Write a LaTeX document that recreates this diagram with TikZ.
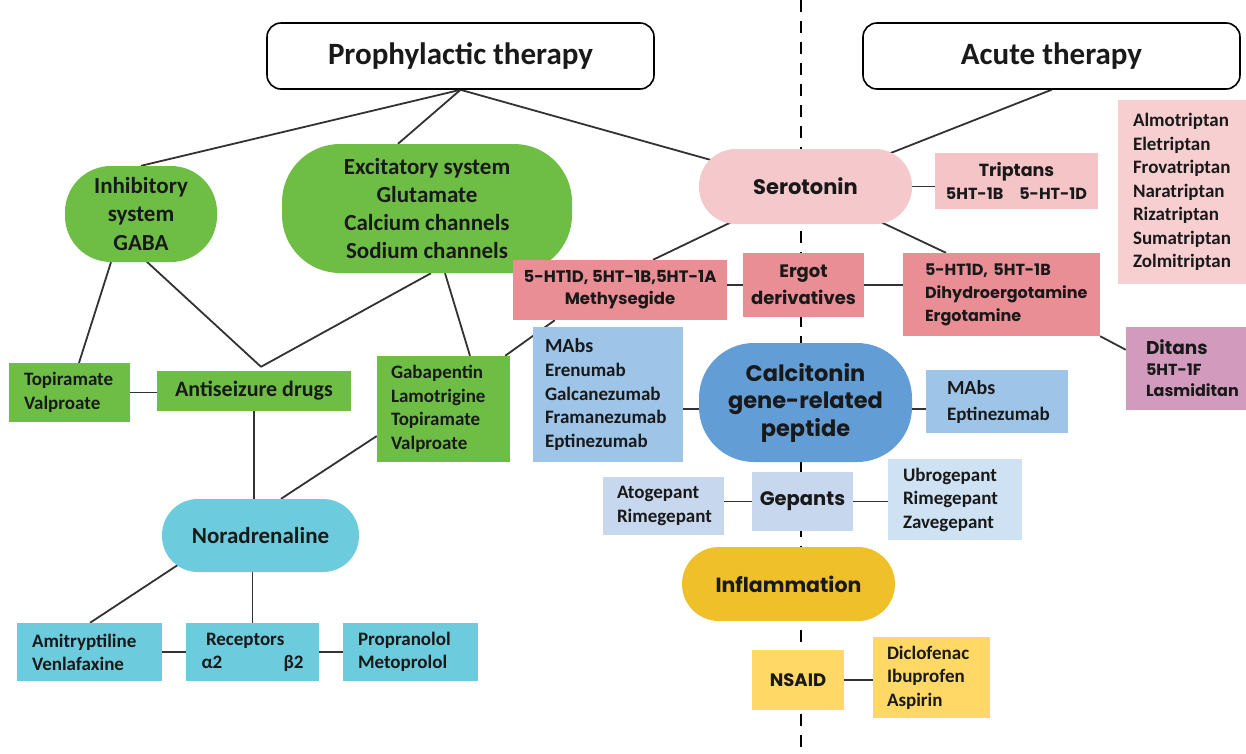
\documentclass[tikz,border=0pt]{standalone}
\usepackage{fontspec}
\setmainfont{Carlito}
\newfontfamily\gothic{Poppins}
\usetikzlibrary{calc,backgrounds}
\newcommand\myfs[2]{\fontsize{#1}{#2}\selectfont}
\definecolor{grn}{RGB}{110,190,70}
\definecolor{cyn}{RGB}{108,203,220}
\definecolor{pnk}{RGB}{245,200,203}
\definecolor{pnk2}{RGB}{244,196,199}
\definecolor{pnk3}{RGB}{247,207,209}
\definecolor{erg}{RGB}{232,142,148}
\definecolor{mauve}{RGB}{210,155,190}
\definecolor{lblue}{RGB}{158,196,232}
\definecolor{mblue}{RGB}{98,157,214}
\definecolor{gblue}{RGB}{198,215,238}
\definecolor{gblue2}{RGB}{207,226,244}
\definecolor{gold}{RGB}{239,192,42}
\definecolor{ylw}{RGB}{255,216,102}
\definecolor{ink}{RGB}{25,25,25}
\definecolor{wirec}{RGB}{50,50,50}
\tikzset{
  base/.style={inner sep=0pt, text=ink, font=\bfseries, align=center},
  titlebox/.style={base, draw=black, line width=1.6pt, rounded corners=14pt, fill=white, font=\bfseries\myfs{31}{36}},
  wire/.style={draw=wirec, line width=1.8pt},
  divider/.style={draw=black, line width=2.6pt, dash pattern=on 12pt off 9pt},
}
\begin{document}
\begin{tikzpicture}[x=1pt,y=-1pt]
\useasboundingbox (0,0) rectangle (1246,753);
% titles
\node[titlebox, minimum width=387, minimum height=66] (proph) at (460.5,56) {Prophylactic therapy};
\node[titlebox, minimum width=377, minimum height=66] (acute) at (1051.5,56) {Acute therapy};
% green
\node[base, fill=grn, rounded corners=46, minimum width=152, minimum height=96, font=\bfseries\myfs{23}{28.5}] (inhib) at (141,214) {Inhibitory\\system\\GABA};
\node[base, fill=grn, rounded corners=58, minimum width=290, minimum height=129, font=\bfseries\myfs{23}{28}] (excit) at (427,208.5) {Excitatory system\\Glutamate\\Calcium channels\\Sodium channels};
\node[base, fill=grn, text width=91, inner xsep=15, minimum height=59, align=left, font=\bfseries\myfs{19}{23.5}] (topval) at (69.5,392.5) {Topiramate\\Valproate};
\node[base, fill=grn, minimum width=194, minimum height=40, font=\bfseries\myfs{22}{26}] (antis) at (254,391) {Antiseizure drugs};
\node[base, fill=grn, text width=105, inner xsep=14, minimum height=106, align=left, font=\bfseries\myfs{19}{23.5}] (gaba) at (443.5,409) {Gabapentin\\Lamotrigine\\Topiramate\\Valproate};
% cyan
\node[base, fill=cyn, rounded corners=36, minimum width=197, minimum height=73, font=\bfseries\myfs{23}{28}] (norad) at (260.5,535.5) {Noradrenaline};
\node[base, fill=cyn, text width=115, inner xsep=15, minimum height=58, align=left, font=\bfseries\myfs{19}{23}] (amit) at (89.5,652) {Amitryptiline\\Venlafaxine};
\node[base, fill=cyn, minimum width=133, minimum height=58, font=\bfseries\myfs{19}{23}] (recep) at (252.5,652) {\makebox[102pt][l]{\hspace{4.5pt}Receptors}\\\makebox[102pt]{α2\hfill β2}};
\node[base, fill=cyn, text width=105, inner xsep=15, minimum height=58, align=left, font=\bfseries\myfs{19}{23}] (prop) at (410.5,652) {Propranolol\\Metoprolol};
% serotonin
\node[base, fill=pnk, rounded corners=37, minimum width=213, minimum height=75, font=\gothic\bfseries\myfs{21}{25}] (sero) at (805.5,186.5) {Serotonin};
\node[base, fill=pnk2, minimum width=163, minimum height=56, font=\gothic\bfseries\myfs{16}{23}] (trip) at (1016.5,181) {{\myfs{17.5}{23}Triptans}\\5HT-1B\quad 5-HT-1D};
\node[base, fill=pnk3, text width=98, inner xsep=15, minimum height=184, align=left, font=\bfseries\myfs{19}{23.5}] (almo) at (1182,192) {Almotriptan\\Eletriptan\\Frovatriptan\\Naratriptan\\Rizatriptan\\Sumatriptan\\Zolmitriptan};
\node[base, fill=erg, minimum width=214, minimum height=60, font=\gothic\bfseries\myfs{16.5}{22}] (meth) at (620,290) {5-HT1D, 5HT-1B,5HT-1A\\Methysegide};
\node[base, fill=erg, minimum width=121, minimum height=64, font=\gothic\bfseries\myfs{18}{27}] (ergot) at (803.5,285) {Ergot\\derivatives};
\node[base, fill=erg, text width=153, inner xsep=22, minimum height=83, align=left, font=\gothic\bfseries\myfs{16}{23}] (rerg) at (1001.5,294.5) {5-HT1D, 5HT-1B\\Dihydroergotamine\\Ergotamine};
\node[base, fill=mauve, text width=80, inner xsep=20, minimum height=83, align=left, font=\gothic\bfseries\myfs{16}{21}] (ditans) at (1186,368.5) {{\myfs{18.5}{21}Ditans}\\5HT-1F\\Lasmiditan};
% CGRP
\node[base, fill=mblue, rounded corners=55, minimum width=213, minimum height=119, font=\gothic\bfseries\myfs{22.5}{27.5}] (calc) at (805.5,402.5) {Calcitonin\\gene-related\\peptide};
\node[base, fill=lblue, text width=126, inner xsep=12, minimum height=135, align=left, font=\bfseries\myfs{19}{23.7}] (mabsL) at (608,394.5) {{\myfs{20}{23.7}MAbs}\\Erenumab\\Galcanezumab\\Framanezumab\\Eptinezumab};
\node[base, fill=lblue, text width=100, inner xsep=21, minimum height=63, align=left, font=\bfseries\myfs{19}{26}] (mabsR) at (997,401.5) {{\myfs{20}{26}MAbs}\\Eptinezumab};
\node[base, fill=gblue, minimum width=101, minimum height=59, font=\gothic\bfseries\myfs{19.5}{24}] (gep) at (802.5,501.5) {Gepants};
\node[base, fill=gblue, text width=93, inner xsep=14, minimum height=58, align=left, font=\bfseries\myfs{19}{24}] (atog) at (663.5,506) {Atogepant\\Rimegepant};
\node[base, fill=gblue2, text width=104, inner xsep=15, minimum height=81, align=left, font=\bfseries\myfs{19}{23.5}] (ubro) at (955,499.5) {Ubrogepant\\Rimegepant\\Zavegepant};
% inflammation
\node[base, fill=gold, rounded corners=37, minimum width=213, minimum height=74, font=\gothic\bfseries\myfs{20.5}{24}] (infl) at (788.5,584) {Inflammation};
\node[base, fill=ylw, minimum width=92, minimum height=60, font=\gothic\bfseries\myfs{18}{22}] (nsaid) at (798,680) {NSAID};
\node[base, fill=ylw, text width=89, inner xsep=14, minimum height=81, align=left, font=\bfseries\myfs{19}{23.5}] (diclo) at (931.5,677.5) {Diclofenac\\Ibuprofen\\Aspirin};
% helper coordinates
\coordinate (J) at ($(antis.north)+(7,-4)$);
\coordinate (dtop) at (801,0);
\coordinate (dbot) at (801,753);
\coordinate (cl) at ($(calc.center)+(0,6.5)$);
\begin{scope}[on background layer]
\fill[white] (0,0) rectangle (1246,753);
\draw[divider] (dtop) -- (dbot);
\draw[wire] (proph.south) -- (inhib.north);
\draw[wire] (proph.south) -- ($(excit.north)+(-29,0)$);
\draw[wire] (proph.south) -- (sero.center);
\draw[wire] (acute.south) -- (sero.center);
\draw[wire] ($(inhib.south)+(-30,0)$) -- ($(topval.north)+(9.5,0)$);
\draw[wire] ($(inhib.south)+(2,-4)$) -- (J);
\draw[wire] ($(excit.south)+(4,0)$) -- (J);
\draw[wire] ($(excit.south)+(18,0)$) -- ($(gaba.north)+(26.5,0)$);
\draw[wire] (topval.east) -- (topval.east -| antis.west);
\draw[wire] ($(antis.east)+(0,-4)$) -- ($(antis.east)+(0,-4)$ -| gaba.west);
\draw[wire] (antis.south) -- (antis.south |- norad.center);
\draw[wire] ($(gaba.west)+(0,27)$) -- ($(norad.north)+(20.5,0)$);
\draw[wire] ($(norad.south)+(-80,-9)$) -- ($(amit.north)+(0.5,0)$);
\draw[wire] (recep.north |- norad.center) -- (recep.north);
\draw[wire] (amit.east) -- (recep.west);
\draw[wire] (recep.east) -- (prop.west);
\draw[wire] (sero.center) -- ($(meth.north)+(33,0)$);
\draw[wire] (sero.center) -- ($(rerg.north)+(-55.5,0)$);
\draw[wire] (sero.center) -- (sero.center -| trip.west);
\draw[wire] ($(trip.east)+(0,8)$) -- ($(trip.east)+(0,8)$ -| almo.west);
\draw[wire] (ergot.west -| meth.east) -- (ergot.west);
\draw[wire] (ergot.east) -- (ergot.east -| rerg.west);
\draw[wire] (rerg.south east) -- ($(ditans.north west)+(0,23)$);
\draw[wire] ($(meth.south west)+(42,0)$) -- ($(gaba.north east)+(-5,0)$);
\draw[wire] (cl -| mabsL.east) -- (cl -| mabsR.west);
\draw[wire] (atog.east |- gep.center) -- (ubro.west |- gep.center);
\draw[wire] (nsaid.east) -- (nsaid.east -| diclo.west);
\end{scope}
\end{tikzpicture}
\end{document}
